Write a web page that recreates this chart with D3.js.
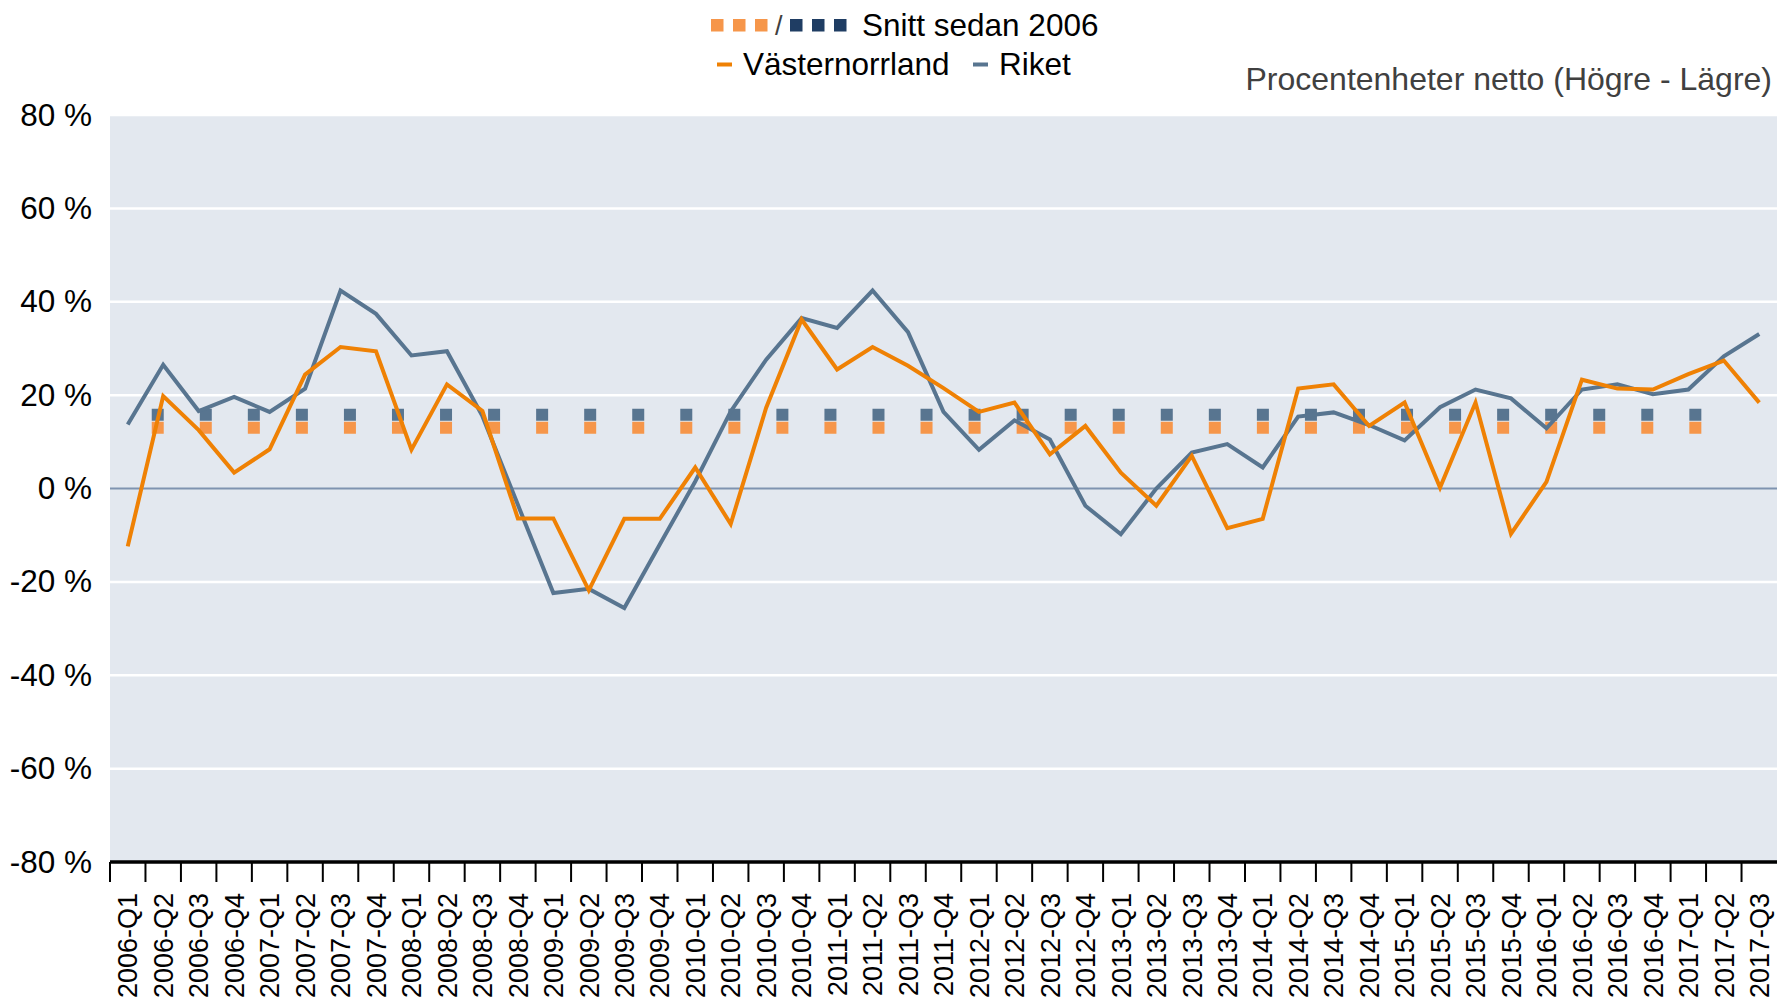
<!DOCTYPE html>
<html>
<head>
<meta charset="utf-8">
<script src="https://cdn.jsdelivr.net/npm/d3@7"></script>
<style>
  body { margin: 0; background: #ffffff; }
  svg text { font-family: "Liberation Sans", Arial, sans-serif; }
</style>
</head>
<body>
<svg id="chart"></svg>
<script>

/*
		 GLOBAL LAYOUT CONSTANTS
*/
var width = 1777;
var height = 1001;
var margin = {top: 115, right: 0, bottom: 139, left: 110};

var w = width - margin.left - margin.right;
var h = height - margin.top - margin.bottom;

/*
		 DATA
*/
var quarters = [
  "2006-Q1","2006-Q2","2006-Q3","2006-Q4",
  "2007-Q1","2007-Q2","2007-Q3","2007-Q4",
  "2008-Q1","2008-Q2","2008-Q3","2008-Q4",
  "2009-Q1","2009-Q2","2009-Q3","2009-Q4",
  "2010-Q1","2010-Q2","2010-Q3","2010-Q4",
  "2011-Q1","2011-Q2","2011-Q3","2011-Q4",
  "2012-Q1","2012-Q2","2012-Q3","2012-Q4",
  "2013-Q1","2013-Q2","2013-Q3","2013-Q4",
  "2014-Q1","2014-Q2","2014-Q3","2014-Q4",
  "2015-Q1","2015-Q2","2015-Q3","2015-Q4",
  "2016-Q1","2016-Q2","2016-Q3","2016-Q4",
  "2017-Q1","2017-Q2","2017-Q3"
];

var vasternorrland = [
  -12.4, 19.8, 12.5, 3.4, 8.4, 24.4, 30.3, 29.4,
  8.3, 22.3, 16.6, -6.4, -6.4, -21.8, -6.5, -6.5,
  4.5, -7.6, 17.3, 36.2, 25.5, 30.3, 26.3, 21.5,
  16.4, 18.4, 7.3, 13.4, 3.4, -3.7, 7.0, -8.5,
  -6.5, 21.4, 22.3, 13.4, 18.4, 0.2, 18.4, -9.7,
  1.4, 23.3, 21.4, 21.2, 24.5, 27.4, 18.4
];

var riket = [
  13.7, 26.5, 16.6, 19.6, 16.4, 21.4, 42.4, 37.4,
  28.5, 29.4, 15.5, -3.5, -22.4, -21.5, -25.6, -12,
  1.5, 16.5, 27.6, 36.5, 34.4, 42.4, 33.5, 16.4,
  8.3, 14.6, 10.5, -3.7, -9.8, 0, 7.7, 9.5,
  4.5, 15.4, 16.3, 13.6, 10.3, 17.4, 21.2, 19.3,
  12.9, 21.2, 22.3, 20.2, 21.2, 28.3, 33.1
];

// averages since 2006, series stops at 2017-Q2
var avgVasternorrland = 13.0;
var avgRiket = 15.8;
var avgQuarters = quarters.slice(0, 46);

var yTicks = [-80, -60, -40, -20, 0, 20, 40, 60, 80];

var seriesNames = ["Västernorrland", "Riket"];
var avgLabel = "Snitt sedan 2006";
var unitLabel = "Procentenheter netto (Högre - Lägre)";

/*
		 COLOURS
*/
var orange = "#ef8104";
var slate = "#587590";
var orangeAvg = "#f6964a";
var navyAvg = "#1f3d63";

/*
		 SCALES
*/
var x = d3.scaleBand()
    .domain(quarters)
    .range([0, w])
    .paddingInner(0)
    .paddingOuter(0);

var xc = function(q) { return x(q) + x.bandwidth() / 2; };

var y = d3.scaleLinear()
    .domain([-80, 80])
    .range([h, 0]);

/*
		 SVG
*/
var svg = d3.select("#chart")
    .attr("width", width)
    .attr("height", height);

var g = svg.append("g")
    .attr("transform", "translate(" + margin.left + "," + margin.top + ")");

// plot background
g.append("rect")
    .attr("x", 0)
    .attr("y", y(80))
    .attr("width", w)
    .attr("height", y(-80) - y(80))
    .attr("fill", "#e3e8ef");

// gridlines
g.selectAll(".grid")
    .data(yTicks.filter(function(d) { return d !== 0 && d !== -80; }))
    .enter().append("line")
    .attr("class", "grid")
    .attr("x1", 0)
    .attr("x2", w)
    .attr("y1", function(d) { return y(d); })
    .attr("y2", function(d) { return y(d); })
    .attr("stroke", "#ffffff")
    .attr("stroke-width", 2.5);

// zero line
g.append("line")
    .attr("x1", 0)
    .attr("x2", w)
    .attr("y1", y(0))
    .attr("y2", y(0))
    .attr("stroke", "#7f93b0")
    .attr("stroke-width", 2);

/*
		 AVERAGE LINES (square dots)
*/
function drawAvg(val, color) {
  var line = d3.line()
      .x(function(q) { return xc(q); })
      .y(function() { return y(val); });
  g.append("path")
      .datum(avgQuarters)
      .attr("d", line)
      .attr("fill", "none")
      .attr("stroke", color)
      .attr("stroke-width", 12)
      .attr("stroke-dasharray", "12 36.05")
      .attr("stroke-dashoffset", 24.05);
}
drawAvg(avgVasternorrland, orangeAvg);
drawAvg(avgRiket, slate);

/*
		 SERIES LINES
*/
var valueLine = d3.line()
    .x(function(d, i) { return xc(quarters[i]); })
    .y(function(d) { return y(d); });

g.append("path")
    .datum(riket)
    .attr("d", valueLine)
    .attr("fill", "none")
    .attr("stroke", slate)
    .attr("stroke-width", 4);

g.append("path")
    .datum(vasternorrland)
    .attr("d", valueLine)
    .attr("fill", "none")
    .attr("stroke", orange)
    .attr("stroke-width", 4);

/*
		 AXES
*/
var yAxis = g.append("g")
    .call(d3.axisLeft(y)
      .tickValues(yTicks)
      .tickSize(0)
      .tickPadding(18)
      .tickFormat(function(d) { return d + " %"; }));
yAxis.select(".domain").remove();
yAxis.selectAll("text")
    .attr("fill", "#000")
    .style("font-size", "31.5px");

var xAxis = g.append("g")
    .attr("transform", "translate(0," + h + ")")
    .call(d3.axisBottom(x).tickSize(0));
xAxis.select(".domain").remove();
xAxis.selectAll("text")
    .attr("transform", "rotate(-90)")
    .attr("x", -31)
    .attr("y", 0)
    .attr("dy", "0.36em")
    .attr("fill", "#000")
    .style("text-anchor", "end")
    .style("font-size", "27px");

// tick marks at band edges
g.selectAll(".xtick")
    .data(quarters)
    .enter().append("line")
    .attr("class", "xtick")
    .attr("x1", function(q) { return x(q); })
    .attr("x2", function(q) { return x(q); })
    .attr("y1", h)
    .attr("y2", h + 20)
    .attr("stroke", "#000")
    .attr("stroke-width", 2);

// bottom axis line
g.append("line")
    .attr("x1", 0)
    .attr("x2", w)
    .attr("y1", h)
    .attr("y2", h)
    .attr("stroke", "#000")
    .attr("stroke-width", 3.5);

/*
		 LEGEND
*/
var leg = svg.append("g");

[711, 733, 755].forEach(function(px) {
  leg.append("rect").attr("x", px).attr("y", 19).attr("width", 12.5).attr("height", 12.5).attr("fill", orangeAvg);
});
leg.append("text").attr("x", 775).attr("y", 35).attr("fill", "#404040")
    .style("font-size", "27px").text("/");
[790, 812, 834].forEach(function(px) {
  leg.append("rect").attr("x", px).attr("y", 19).attr("width", 12.5).attr("height", 12.5).attr("fill", navyAvg);
});
leg.append("text").attr("x", 862).attr("y", 36).attr("fill", "#000")
    .style("font-size", "31.5px").text(avgLabel);

leg.append("rect").attr("x", 717).attr("y", 62.5).attr("width", 15).attr("height", 4).attr("fill", orange);
leg.append("text").attr("x", 743).attr("y", 74.5).attr("fill", "#000")
    .style("font-size", "31.5px").text(seriesNames[0]);
leg.append("rect").attr("x", 973).attr("y", 62.5).attr("width", 15).attr("height", 4).attr("fill", slate);
leg.append("text").attr("x", 999).attr("y", 74.5).attr("fill", "#000")
    .style("font-size", "31.5px").text(seriesNames[1]);

svg.append("text")
    .attr("x", 1772)
    .attr("y", 90)
    .attr("fill", "#404040")
    .style("text-anchor", "end")
    .style("font-size", "32px")
    .text(unitLabel);

</script>
</body>
</html>
